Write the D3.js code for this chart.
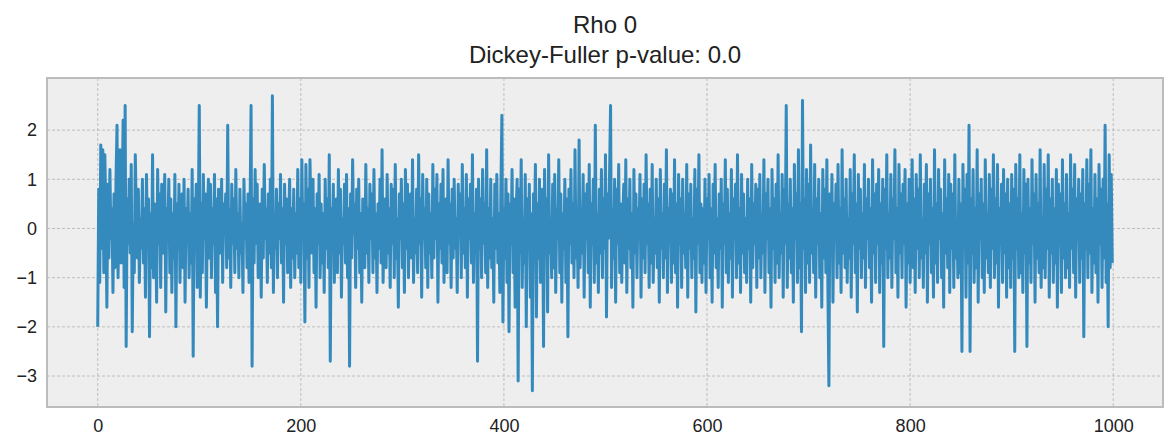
<!DOCTYPE html>
<html><head><meta charset="utf-8">
<script src="https://cdn.jsdelivr.net/npm/d3@7"></script>
<style>body{margin:0;background:#fff}</style>
</head><body>
<svg id="chart" width="1176" height="448"></svg>
<script>
// values, 100 per row (index 0..999)
const rows = [
"-2.0 0.8 -1.1 1.7 -0.4 1.6 -0.9 1.5 0.3 -1.6 0.9 -0.6 1.2 -0.2 0.4 -1.3 0.7 -0.8 1.0 2.1 -1.0 0.2 1.6 -0.7 0.5 2.2 -1.2 2.5 -2.4 0.6 -0.3 1.0 -0.5 1.3 -2.1 0.1 -0.9 1.5 0.3 -0.6 0.8 -1.1 0.2 -0.4 1.0 -0.7 0.4 -1.4 1.1 -0.2 0.6 -2.2 0.3 -0.8 1.5 -1.0 0.5 0.0 -1.5 1.2 -0.3 0.7 -1.2 0.9 -0.5 0.2 1.1 -1.7 0.4 -0.1 1.0 -0.9 0.6 -1.3 0.3 -0.6 1.1 -2.0 0.5 -0.4 0.9 -1.1 0.2 0.7 -0.8 1.0 -1.5 0.4 -0.2 0.8 -1.0 0.3 -0.7 1.2 -2.6 0.6 -0.3 0.9 -1.2 0.1",
"2.5 -1.4 0.5 -0.9 1.1 -0.2 0.7 -1.6 0.3 1.0 -0.6 0.9 -1.0 0.4 -0.3 1.1 -1.3 0.6 -2.0 0.8 0.2 -0.5 1.0 -1.1 0.5 -0.1 0.7 -0.8 2.1 -0.6 0.4 -1.2 0.9 -0.3 0.6 -0.9 1.2 -0.4 0.3 -1.0 0.8 -0.5 0.1 -1.3 1.0 -0.2 0.5 -0.8 0.7 -1.1 0.4 2.5 -2.8 0.6 -0.7 1.2 -0.3 0.9 -1.0 0.2 0.5 -1.4 0.8 -0.6 1.3 -0.2 0.4 -1.1 0.7 -0.5 1.0 -0.8 2.7 -1.3 0.3 -0.4 0.8 -1.0 0.5 -0.2 1.1 -0.7 0.4 -1.5 0.9 -0.3 0.6 -0.9 0.2 1.0 -1.2 0.4 -0.6 0.8 -1.0 0.3 -0.5 1.2 -0.8 0.6",
"-1.1 1.4 -0.2 0.5 -1.9 1.3 -0.6 0.8 -1.2 1.4 0.2 -0.5 1.0 -0.9 0.4 -1.6 0.7 -0.3 1.1 -1.0 0.5 -0.7 0.3 -1.3 1.0 -0.4 0.6 -0.8 1.5 -2.7 0.4 -0.2 0.9 -1.1 0.3 0.6 -0.9 1.2 -0.5 0.8 -1.4 0.2 -0.3 0.9 -0.7 1.1 -1.0 0.4 -2.8 0.7 -0.6 1.4 -0.1 0.5 -1.2 0.8 -0.4 1.0 -0.9 0.3 -1.5 0.6 0.1 -0.8 1.3 -0.5 0.4 -1.1 0.9 -0.2 0.7 -0.9 1.2 -0.6 0.3 -1.3 0.5 -0.4 1.0 -0.7 1.6 -1.1 0.2 0.6 -0.8 1.1 -0.5 0.4 -1.2 0.9 -0.3 0.8 -1.0 1.3 -0.6 0.2 -1.6 0.7 -0.2 1.0",
"-0.8 0.5 -1.3 1.2 -0.4 0.9 -1.0 0.3 0.7 -0.6 1.4 -1.1 0.2 -0.5 0.8 -0.9 1.5 -0.3 0.6 -1.4 1.1 -0.2 0.4 -0.8 1.0 -1.2 0.7 -0.5 0.3 -1.0 1.3 -0.6 0.8 -0.2 1.1 -1.5 0.5 -0.4 0.9 -0.7 1.2 -1.1 0.3 0.6 -0.9 1.4 -0.3 0.5 -1.2 0.8 -0.6 1.0 -0.4 0.2 -1.3 0.9 -0.1 0.7 -1.0 1.3 -0.5 0.4 -0.8 1.1 -1.4 0.6 -0.2 0.9 -0.7 1.5 -1.1 0.3 -0.5 0.8 -2.7 1.0 -0.4 0.6 -1.0 1.2 -0.3 0.5 -0.9 1.6 -1.2 0.4 -0.6 1.0 -0.8 0.2 -1.5 0.9 -0.4 1.1 -0.7 0.3 -1.3 0.8 2.3 -1.9",
"0.4 -0.6 1.0 -1.1 0.7 -2.1 0.5 -0.3 1.2 -0.9 0.6 -1.6 0.3 1.0 -3.1 0.8 -0.5 1.4 -1.2 0.2 -0.7 1.1 -2.0 0.6 -0.4 0.9 -1.4 0.3 -3.3 0.7 -0.2 1.3 -1.8 0.5 -0.6 1.0 -1.1 0.4 0.8 -2.4 1.2 -0.3 0.6 -1.7 1.5 -0.5 0.2 -1.0 0.9 -0.8 1.1 -1.3 0.4 -0.2 1.4 -0.9 0.7 -1.5 0.3 -0.4 1.0 -1.1 0.6 -2.2 0.8 -0.3 1.2 -0.7 0.5 -1.0 1.6 -0.6 0.2 -1.2 1.8 -0.8 0.4 -0.5 1.1 -1.4 0.7 -0.2 0.9 -0.9 1.3 -1.6 0.5 -0.3 1.0 -1.1 2.1 -0.7 0.3 -1.3 0.8 -0.5 1.2 -1.0 0.6 -0.4",
"1.5 -1.8 0.7 -0.2 1.1 2.5 -1.2 0.4 -0.6 1.0 -1.5 0.8 -0.3 1.3 -0.9 0.5 -1.1 0.2 0.9 -0.7 1.4 -1.3 0.6 -0.4 1.0 -0.8 0.3 -1.6 1.2 -0.5 0.7 -1.0 0.4 -0.2 1.1 -1.4 0.6 -0.6 0.9 -0.9 1.5 -0.3 0.5 -1.2 0.8 -0.7 1.3 -1.1 0.2 -0.5 1.0 -0.8 0.6 -1.5 1.2 -0.4 0.3 -1.0 0.9 -0.6 1.6 -1.3 0.4 -0.2 0.8 -1.1 0.7 -0.7 1.4 -0.9 0.5 -1.6 1.1 -0.3 0.6 -1.2 1.0 -0.5 0.3 -0.8 1.3 -1.4 0.7 -0.4 0.9 -1.0 0.2 -0.6 1.2 -1.7 0.8 -0.3 1.5 -0.9 0.5 -1.1 0.4 -0.7 1.0 -1.3",
"0.6 -0.2 1.1 -1.0 0.4 -1.5 0.9 -0.5 1.3 -0.8 0.2 -1.2 0.7 -0.4 1.0 -1.6 0.5 -0.3 1.4 -0.9 0.8 -1.1 0.3 -0.6 1.2 -1.4 0.6 -0.2 0.9 -1.0 1.5 -0.7 0.4 -1.3 1.1 -0.5 0.7 -0.9 0.2 -1.1 1.0 -0.4 0.6 -1.5 1.3 -0.8 0.5 -0.3 0.9 -1.2 0.8 -0.6 1.1 -1.0 0.3 -0.5 1.4 -1.3 0.7 -0.2 1.0 -0.9 0.4 -1.6 1.2 -0.4 0.6 -1.1 0.9 -0.7 1.5 -1.0 0.3 -0.5 1.1 -1.4 0.8 -0.3 2.5 -1.2 0.5 -0.6 1.0 -0.9 0.4 -1.5 1.3 -0.2 0.7 -1.1 1.6 -0.8 0.5 -2.1 2.6 -0.4 0.6 -1.3 1.2 -0.7",
"0.9 -1.1 1.7 -0.5 0.4 -0.9 1.3 -1.4 0.6 -0.3 1.0 -1.0 0.3 -1.6 1.2 -0.6 0.8 -0.9 1.4 -1.2 -3.2 0.7 -0.4 1.1 -1.5 0.5 -0.2 0.9 -1.0 1.3 -0.7 0.4 -1.3 1.6 -0.5 0.6 -0.8 1.0 -1.1 0.2 -0.6 1.2 -1.4 0.7 -0.3 1.5 -0.9 0.5 -1.7 1.1 -0.4 0.8 -1.0 0.3 -0.6 1.3 -1.2 0.6 -0.2 1.0 -0.8 0.4 -1.5 1.4 -0.5 0.7 -1.1 0.9 -0.3 1.2 -1.3 0.5 -0.7 1.0 -2.4 0.8 -0.4 1.5 -1.0 0.3 -0.6 1.1 -1.2 0.6 -0.2 1.6 -0.9 0.4 -1.4 1.3 -0.5 0.7 -1.0 0.9 -0.3 1.2 -1.6 0.5 -0.7 1.0",
"-1.1 0.3 1.4 -0.8 0.6 -1.3 1.1 -0.4 0.8 -1.0 1.5 -0.6 0.2 -1.2 0.9 -0.5 1.3 -1.5 0.7 -0.3 1.0 -0.9 0.4 -1.4 1.6 -0.7 0.5 -1.1 1.2 -0.2 0.8 -1.0 0.3 -1.6 1.4 -0.5 0.6 -0.8 1.1 -1.3 0.9 -0.4 0.7 -1.2 1.5 -0.6 0.2 -1.0 1.0 -0.9 0.5 -2.5 1.3 -0.3 0.8 -1.4 1.1 -0.7 2.1 -2.5 0.6 -0.5 1.2 -1.1 0.4 -0.8 1.6 -1.5 0.7 -0.2 1.0 -1.0 0.5 -1.3 1.4 -0.6 0.3 -0.9 1.1 -1.2 0.8 -0.4 1.5 -1.0 0.6 -0.7 1.3 -1.6 0.4 -0.3 0.9 -1.1 1.2 -0.5 0.7 -1.4 1.0 -0.8 0.5 -1.2",
"1.1 -0.6 0.8 -2.5 1.3 -0.4 0.6 -1.0 1.5 -0.9 0.3 -1.3 1.2 -0.5 0.9 -2.4 1.0 -0.7 0.4 -1.1 1.4 -0.3 0.7 -1.5 1.1 -0.6 0.5 -0.9 1.6 -1.2 0.2 -0.8 1.3 -1.0 0.8 -0.4 1.5 -1.4 0.6 -0.5 1.0 -1.1 0.4 -0.7 1.2 -1.6 0.9 -0.3 0.7 -1.3 1.4 -0.6 0.5 -1.0 1.1 -0.8 0.3 -1.2 1.5 -0.4 0.8 -0.9 1.3 -1.4 0.6 -0.2 1.0 -1.1 0.7 -0.6 1.2 -2.2 0.5 -0.4 1.4 -1.0 0.9 -0.5 1.6 -1.3 0.4 -0.7 1.1 -0.9 0.6 -1.5 1.3 -0.3 0.8 -1.2 1.0 -0.6 2.1 -1.1 0.5 -2.0 1.5 -0.8 1.1 -0.7"
];
const values = rows.join(' ').trim().split(/\s+/).map(Number);
const xTicks = [0, 200, 400, 600, 800, 1000];
const yTicks = [-3, -2, -1, 0, 1, 2];
const titleLines = ['Rho 0', 'Dickey-Fuller p-value: 0.0'];

const svg = d3.select('#chart');
const m = { left: 47, right: 13, top: 78, bottom: 41 };
const W = 1176 - m.left - m.right, H = 448 - m.top - m.bottom;
const g = svg.append('g').attr('transform', `translate(${m.left},${m.top})`);

const x = d3.scaleLinear().domain([-49.95, 1049]).range([0, W]);
const y = d3.scaleLinear().domain([-3.63, 3.06]).range([H, 0]);

g.append('rect').attr('width', W).attr('height', H).attr('fill', '#eeeeee');

// grid
g.selectAll('.gx').data(xTicks).join('line')
  .attr('x1', d => x(d)).attr('x2', d => x(d)).attr('y1', 0).attr('y2', H)
  .attr('stroke', '#b2b2b2').attr('stroke-width', 0.8).attr('stroke-dasharray', '3,2');
g.selectAll('.gy').data(yTicks).join('line')
  .attr('y1', d => y(d)).attr('y2', d => y(d)).attr('x1', 0).attr('x2', W)
  .attr('stroke', '#b2b2b2').attr('stroke-width', 0.8).attr('stroke-dasharray', '3,2');

const line = d3.line().x((d, i) => x(i)).y(d => y(d));
g.append('path').datum(values).attr('d', line)
  .attr('fill', 'none').attr('stroke', '#348ABD').attr('stroke-width', 3)
  .attr('stroke-linejoin', 'round');

g.append('rect').attr('width', W).attr('height', H).attr('fill', 'none')
  .attr('stroke', '#bcbcbc').attr('stroke-width', 2);

const font = 'Liberation Sans, Arial, sans-serif';
const xAxis = g.append('g').attr('transform', `translate(0,${H})`)
  .call(d3.axisBottom(x).tickValues(xTicks).tickSize(0).tickPadding(12).tickFormat(d3.format('d')));
const yAxis = g.append('g')
  .call(d3.axisLeft(y).tickValues(yTicks).tickSize(0).tickPadding(10)
    .tickFormat(d => d < 0 ? '\u2212' + Math.abs(d) : d));
[xAxis, yAxis].forEach(a => {
  a.select('.domain').remove();
  a.selectAll('text').attr('font-family', font).attr('font-size', 18).attr('fill', '#222');
});

svg.selectAll('.title').data(titleLines).join('text')
  .attr('x', m.left + W / 2).attr('y', (d, i) => 33 + i * 30)
  .attr('text-anchor', 'middle').attr('font-family', font)
  .attr('font-size', 24).attr('fill', '#222').text(d => d);
</script>
</body></html>
